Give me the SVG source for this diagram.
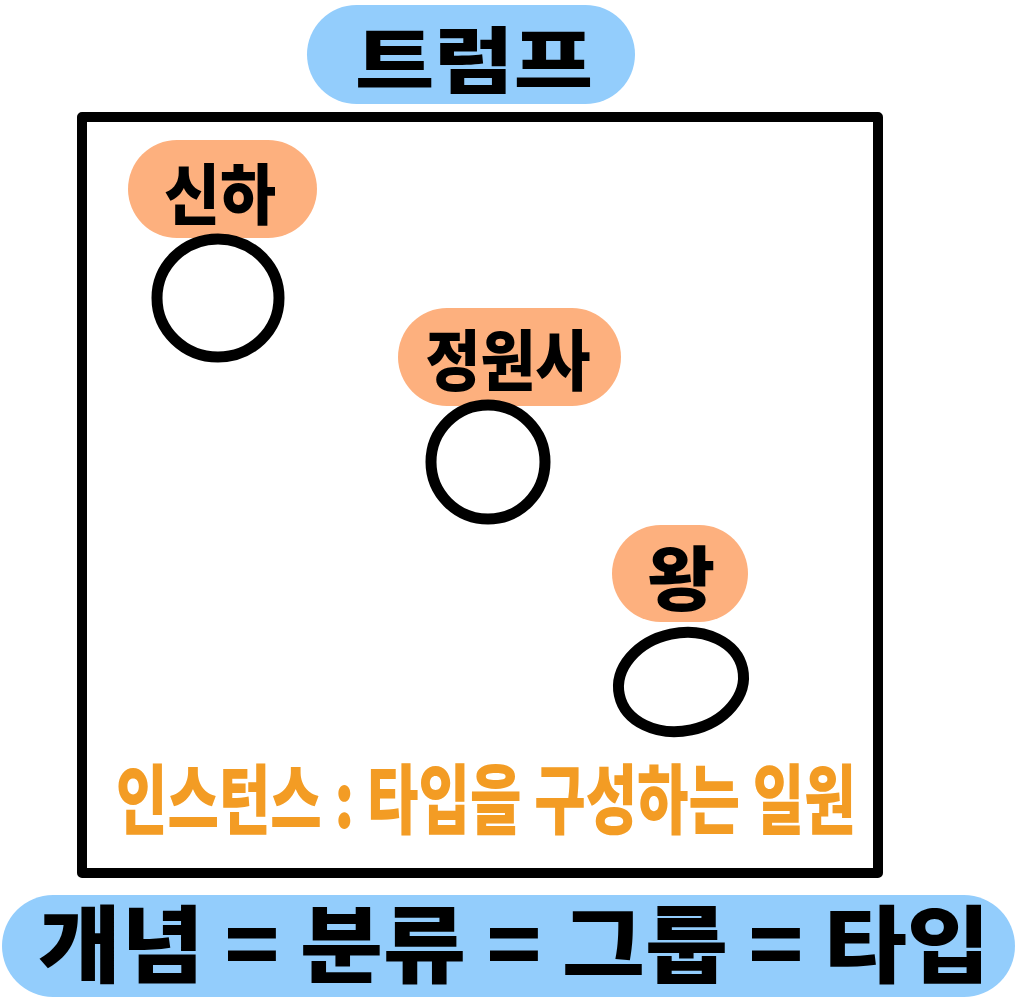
<svg xmlns="http://www.w3.org/2000/svg" width="1017" height="1000" viewBox="0 0 1017 1000">
<style>
.blue{fill:#93CDFC}
.orange{fill:#FDB07E}
.lbl{font-family:"Noto Sans CJK KR","Noto Sans",sans-serif;font-weight:900;fill:#000;text-anchor:middle}
.ring{fill:none;stroke:#000;stroke-width:11}
.note{font-family:"Noto Sans CJK KR","Noto Sans",sans-serif;font-weight:900;fill:#F39C24}
</style>
<rect width="1017" height="1000" fill="#fff"/>
<g id="title">
<rect class="blue" x="307" y="5" width="328" height="99" rx="49.5"/>
<text class="lbl" x="474" y="87" font-size="72" textLength="238" lengthAdjust="spacingAndGlyphs">트럼프</text>
</g>
<g id="frame">
<rect x="82" y="117" width="796" height="756" fill="none" stroke="#000" stroke-width="10" stroke-linejoin="round"/>
</g>
<g id="node-sinha">
<rect class="orange" x="128" y="140" width="189" height="98" rx="49"/>
<text class="lbl" x="220" y="219" font-size="66" textLength="112" lengthAdjust="spacingAndGlyphs">신하</text>
<ellipse class="ring" cx="218" cy="298" rx="61" ry="59"/>
</g>
<g id="node-gardener">
<rect class="orange" x="398" y="308" width="223" height="98" rx="49"/>
<text class="lbl" x="508" y="385" font-size="66" textLength="165" lengthAdjust="spacingAndGlyphs">정원사</text>
<ellipse class="ring" cx="488" cy="462" rx="57" ry="57"/>
</g>
<g id="node-king">
<rect class="orange" x="612" y="525" width="136" height="97" rx="48.5"/>
<text class="lbl" x="681" y="605" font-size="70" textLength="68" lengthAdjust="spacingAndGlyphs">왕</text>
<ellipse class="ring" cx="681" cy="682" rx="63" ry="49" transform="rotate(-12 681 682)"/>
</g>
<g id="note">
<text class="note" transform="translate(116 828) scale(0.69 1)" x="0" y="0" font-size="76" textLength="1072" lengthAdjust="spacingAndGlyphs">인스턴스 : 타입을 구성하는 일원</text>
</g>
<g id="footer">
<rect class="blue" x="2" y="895" width="1013" height="102" rx="51"/>
<text class="lbl" x="514" y="976" font-size="84" textLength="952" lengthAdjust="spacingAndGlyphs">개념 = 분류 = 그룹 = 타입</text>
</g>
<g id="connectors"/>
</svg>
